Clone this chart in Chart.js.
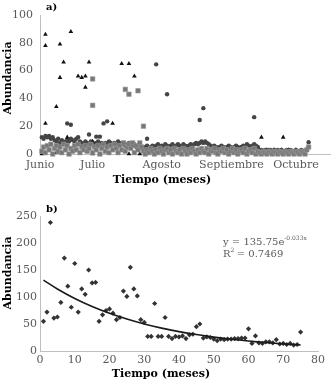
<!DOCTYPE html>
<html>
<head>
<meta charset="utf-8">
<script src="https://cdn.jsdelivr.net/npm/chart.js@4.4.1/dist/chart.umd.min.js"></script>
<style>
  body { margin: 0; background: #fff; }
  .box { position: relative; width: 335px; }
</style>
</head>
<body>
<div class="box" style="height:190px"><canvas id="chartA"></canvas></div>
<div class="box" style="height:196px"><canvas id="chartB"></canvas></div>
<script>
// --- Data, panel a (one value per day, day 0 = start of June) ---
const mesesNombres = ['Junio', 'Julio', 'Agosto', 'Septiembre', 'Octubre'];
const mesesDia = [-1, 28, 66, 104.5, 140];

const circulosDia = [
  12, 11, 13, 12, 13, 11, 12, 10, 9, 11,
  8, 10, 9, 8, 10, 9, 11, 10, 9, 11,
  12, 9, 8, 7, 9, 8, 7, 9, 8, 7,
  8, 9, 7, 8, 6, 8, 7, 9, 8, 7,
  8, 7, 9, 8, 7, 8, 6, 7, 8, 7,
  6, 7, 5, 6, 4, 5, 4, 5, 6, 4,
  5, 6, 5, 6, 7, 5, 6, 5, 7, 6,
  5, 6, 7, 5, 6, 7, 6, 5, 7, 6,
  5, 6, 7, 6, 7, 8, 7, 8, 9, 8,
  9, 8, 7, 6, 5, 6, 5, 4, 5, 6,
  5, 4, 5, 6, 5, 4, 5, 6, 5, 4,
  5, 6, 5, 7, 6, 5, 6, 7, 6, 5,
  3, 3, 2, 3, 2, 3, 3, 2, 3, 2,
  3, 2, 3, 2, 2, 3, 2, 3, 2, 2,
  3, 2, 2, 3, 2, 2, 3, 8.5
];
const circulosExtraX = [14, 16, 26, 30, 32, 34, 36, 58, 63, 69, 87, 89, 117];
const circulosExtraY = [22, 21, 14, 12.5, 12.5, 22, 23.5, 11, 64.5, 43, 24.5, 33, 26.5];

const cuadradosDia = [
  2, 5, 1, 6, 3, 7, 0, 4, 6, 2,
  5, 1, 7, 3, 6, 0, 4, 2, 6, 3,
  7, 1, 5, 3, 6, 2, 4, 7, 1, 5,
  3, 6, 0, 4, 7, 2, 5, 1, 6, 3,
  7, 4, 1, 6, 3, 8, 2, 5, 7, 4,
  8, 1, 6, 3, 8, 5, 2, 0, 3, 1,
  4, 2, 0, 3, 1, 4, 2, 0, 3, 4,
  1, 3, 0, 4, 2, 1, 3, 0, 4, 2,
  0, 3, 1, 4, 2, 0, 3, 1, 4, 2,
  1, 4, 0, 3, 2, 4, 1, 0, 3, 2,
  4, 1, 3, 0, 2, 4, 1, 3, 0, 2,
  3, 1, 4, 0, 2, 3, 1, 4, 0, 2,
  1, 0, 2, 1, 0, 2, 1, 0, 2, 1,
  0, 2, 1, 0, 2, 1, 0, 2, 1, 0,
  2, 1, 0, 2, 1, 0, 3, 5
];
const cuadradosExtraX = [28, 28, 46, 48, 53, 56];
const cuadradosExtraY = [54, 35, 46.5, 43, 45.5, 20];

// low triangles, mostly hidden in the band (null = no mark that day)
const triangulosDia = [
  0, null, null, null, null, null, null, null, 1, null,
  null, null, null, null, null, null, null, null, null, null,
  null, null, null, null, null, null, null, null, 0, null,
  null, null, null, null, null, null, null, null, null, null,
  null, null, null, null, null, null, null, null, 0, null,
  null, null, null, null, 0, null, null, null, null, null,
  null, null, null, null, null, null, null, null, null, null,
  null, null, null, null, null, null, null, null, null, null,
  null, null, null, null, null, null, null, null, null, null,
  null, null, null, null, null, null, null, null, null, null,
  null, null, null, null, null, null, null, null, null, null,
  null, null, null, null, null, null, null, null, null, null,
  3, null, 2, null, 3, null, 2, null, 3, null,
  2, null, 3, null, 2, null, 3, null, 2, null,
  3, null, 2, null, 2, null, 3, null
];
const triangulosExtraX = [2, 2, 2, 8, 10, 10, 12, 14, 16, 20, 22, 24, 24, 26, 28, 39, 44, 48, 51, 121, 133];
const triangulosExtraY = [86, 78, 22, 34, 79, 55, 66, 12, 88, 56, 55, 56, 48, 66, 9, 22, 65, 65, 56, 12, 12];

// --- Data, panel b ---
const mesesB = [
  1, 2, 3, 4, 5, 6, 7, 8, 9, 10, 11, 12, 13, 14, 15, 16, 17, 18, 19, 20,
  21, 22, 23, 24, 25, 26, 27, 28, 29, 30, 31, 32, 33, 34, 35, 36, 37, 38, 39, 40,
  41, 42, 43, 44, 45, 46, 47, 48, 49, 50, 51, 52, 53, 54, 55, 56, 57, 58, 59, 60,
  61, 62, 63, 64, 65, 66, 67, 68, 69, 70, 71, 72, 73, 74, 75
];
const abundanciaB = [
  55, 72, 238, 61, 63, 90, 172, 120, 81, 162, 72, 115, 105, 150, 126, 127, 55, 67, 75, 78,
  70, 58, 62, 111, 101, 155, 115, 102, 58, 53, 27, 27, 88, 27, 27, 62, 27, 23, 27, 26,
  28, 23, 30, 31, 45, 50, 24, 26, 25, 22, 19, 22, 21, 22, 22, 23, 23, 24, 24, 41,
  14, 28, 15, 14, 17, 17, 15, 21, 13, 14, 12, 14, 11, 12, 35
];
const tendenciaX = [1, 5, 10, 15, 20, 25, 30, 35, 40, 45, 50, 55, 60, 65, 70, 75];
const tendenciaY = [131.3, 114.9, 97.3, 82.4, 69.8, 59.1, 50.0, 42.4, 35.9, 30.4, 25.7, 21.8, 18.5, 15.6, 13.2, 11.2];

// --- Helpers ---
function puntos(diario, extraX, extraY) {
  const out = [];
  diario.forEach(function (v, i) { if (v !== null) out.push({ x: i, y: v }); });
  extraX.forEach(function (x, i) { out.push({ x: x, y: extraY[i] }); });
  return out;
}

const serif = "'DejaVu Serif', serif";
Chart.defaults.font.family = serif;
Chart.defaults.font.size = 11;
Chart.defaults.color = '#595959';
Chart.defaults.animation = false;

// axis titles and panel letters drawn by hand (they sit off-centre in the original)
function textos(id, items) {
  return {
    id: id,
    afterDraw(chart) {
      const ctx = chart.ctx;
      items.forEach(function (t) {
        ctx.save();
        ctx.font = t.font;
        ctx.fillStyle = t.color || '#000';
        ctx.textAlign = t.align || 'center';
        ctx.textBaseline = 'middle';
        ctx.translate(t.x, t.y);
        if (t.rot) ctx.rotate(t.rot);
        ctx.fillText(t.text, 0, 0);
        ctx.restore();
      });
    }
  };
}

const ecuacion = {
  id: 'ecuacion',
  afterDraw(chart) {
    const ctx = chart.ctx;
    ctx.save();
    ctx.fillStyle = '#595959';
    ctx.textBaseline = 'alphabetic';
    ctx.textAlign = 'left';
    const x0 = 223;
    ctx.font = '10px ' + serif;
    const t1 = 'y = 135.75e';
    ctx.fillText(t1, x0, 55);
    const w1 = ctx.measureText(t1).width;
    ctx.font = '6px ' + serif;
    ctx.fillText('-0.033x', x0 + w1, 50);
    ctx.font = '10px ' + serif;
    ctx.fillText('R', x0, 67);
    const wr = ctx.measureText('R').width;
    ctx.font = '6px ' + serif;
    ctx.fillText('2', x0 + wr, 62);
    ctx.font = '10px ' + serif;
    ctx.fillText(' = 0.7469', x0 + wr + 3, 67);
    ctx.restore();
  }
};

const ejeColor = '#bfbfbf';
const sinRejilla = { display: false, drawTicks: false, tickLength: 0 };

// --- Panel a ---
new Chart(document.getElementById('chartA'), {
  type: 'scatter',
  data: {
    datasets: [
      {
        label: 'cuadrados',
        data: puntos(cuadradosDia, cuadradosExtraX, cuadradosExtraY),
        pointStyle: 'rect',
        pointRadius: 3.2,
        backgroundColor: '#777777',
        borderColor: '#9a9a9a',
        borderWidth: 0.6,
        clip: false,
        order: 1
      },
      {
        label: 'triangulos',
        data: puntos(triangulosDia, triangulosExtraX, triangulosExtraY),
        pointStyle: 'triangle',
        pointRadius: 2.7,
        backgroundColor: '#111',
        borderColor: '#111',
        borderWidth: 0,
        clip: false,
        order: 2
      },
      {
        label: 'circulos',
        data: puntos(circulosDia, circulosExtraX, circulosExtraY),
        pointStyle: 'circle',
        pointRadius: 2.2,
        backgroundColor: '#454545',
        borderColor: '#454545',
        borderWidth: 0,
        clip: false,
        order: 3
      }
    ]
  },
  options: {
    responsive: true,
    maintainAspectRatio: false,
    layout: { padding: { top: 15, right: 2, left: 0, bottom: 0 } },
    plugins: { legend: { display: false }, tooltip: { enabled: false } },
    scales: {
      x: {
        type: 'linear',
        min: -1,
        max: 159,
        grid: sinRejilla,
        border: { display: true, color: ejeColor },
        afterBuildTicks: function (scale) {
          scale.ticks = mesesDia.map(function (v) { return { value: v }; });
        },
        afterFit: function (scale) { scale.height = 36; },
        ticks: {
          autoSkip: false,
          maxRotation: 0,
          padding: 5,
          callback: function (v, i) { return mesesNombres[i]; }
        }
      },
      y: {
        min: 0,
        max: 100,
        grid: sinRejilla,
        border: { display: true, color: ejeColor },
        afterFit: function (scale) { scale.width = 40; },
        ticks: { stepSize: 10, padding: 7 }
      }
    }
  },
  plugins: [textos('textosA', [
    { text: 'a)', x: 46, y: 7, font: 'bold 10px ' + serif, align: 'left' },
    { text: 'Tiempo (meses)', x: 162, y: 180, font: 'bold 11px ' + serif },
    { text: 'Abundancia', x: 8, y: 78, font: 'bold 11px ' + serif, rot: -Math.PI / 2 }
  ])]
});

// --- Panel b ---
new Chart(document.getElementById('chartB'), {
  type: 'scatter',
  data: {
    datasets: [
      {
        label: 'tendencia',
        data: tendenciaX.map(function (x, i) { return { x: x, y: tendenciaY[i] }; }),
        showLine: true,
        tension: 0.4,
        borderColor: '#1a1a1a',
        borderWidth: 1.6,
        pointRadius: 0,
        order: 1
      },
      {
        label: 'abundancia',
        data: mesesB.map(function (x, i) { return { x: x, y: abundanciaB[i] }; }),
        pointStyle: 'rectRot',
        pointRadius: 2.6,
        backgroundColor: '#333',
        borderColor: '#333',
        borderWidth: 0,
        clip: false,
        order: 2
      }
    ]
  },
  options: {
    responsive: true,
    maintainAspectRatio: false,
    layout: { padding: { top: 26, right: 17, left: 0, bottom: 0 } },
    plugins: { legend: { display: false }, tooltip: { enabled: false } },
    scales: {
      x: {
        type: 'linear',
        min: 0,
        max: 80,
        grid: sinRejilla,
        border: { display: true, color: ejeColor },
        afterFit: function (scale) { scale.height = 35; },
        ticks: { stepSize: 10, maxRotation: 0, padding: 3 }
      },
      y: {
        min: 0,
        max: 250,
        grid: sinRejilla,
        border: { display: true, color: ejeColor },
        afterFit: function (scale) { scale.width = 40; },
        ticks: { stepSize: 50, padding: 3 }
      }
    }
  },
  plugins: [ecuacion, textos('textosB', [
    { text: 'b)', x: 46, y: 19, font: 'bold 10px ' + serif, align: 'left' },
    { text: 'Tiempo (meses)', x: 161, y: 184, font: 'bold 11px ' + serif },
    { text: 'Abundancia', x: 8, y: 83, font: 'bold 11px ' + serif, rot: -Math.PI / 2 }
  ])]
});
</script>
</body>
</html>
